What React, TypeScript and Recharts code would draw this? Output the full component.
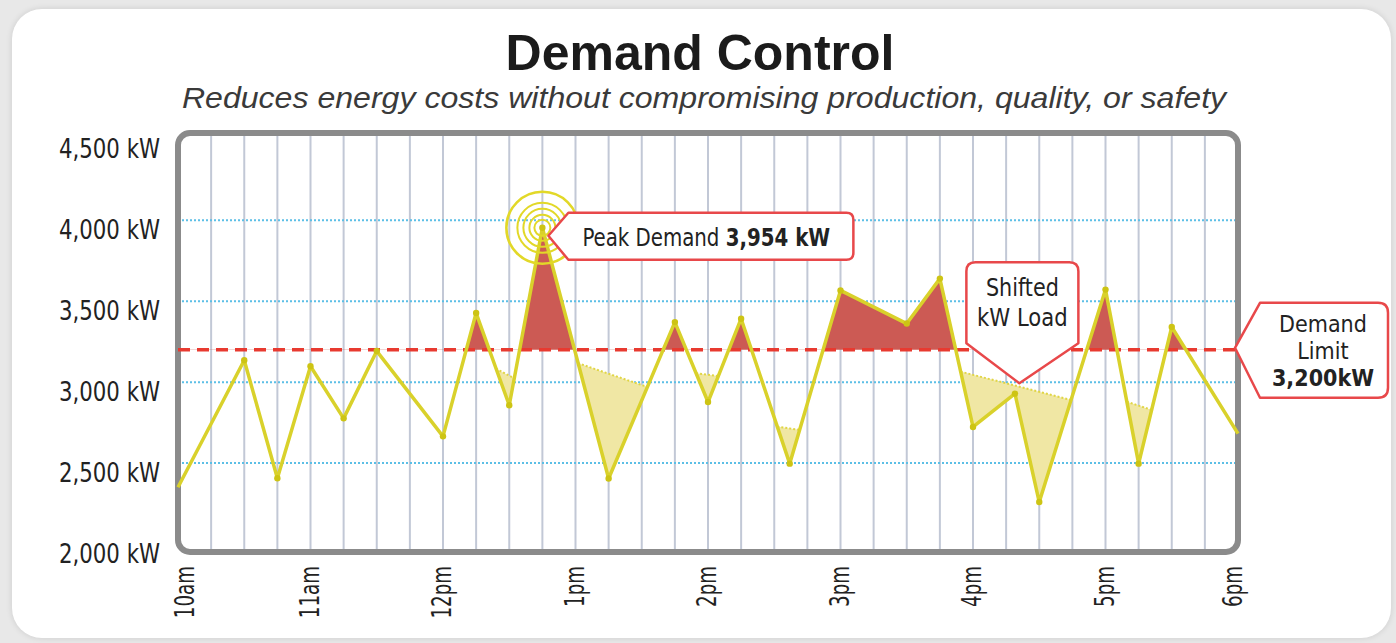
import React from 'react';
import {
  ComposedChart,
  Line,
  Area,
  XAxis,
  YAxis,
  CartesianGrid,
  ReferenceLine,
  ReferenceArea,
  ReferenceDot,
} from 'recharts';

// ---------- data ----------
// minutes after 10am
const minutes = [0, 30, 45, 60, 75, 90, 120, 135, 150, 165, 195, 225, 240, 255, 277, 300, 330, 345, 360, 379, 390, 420, 435, 450, 480];
const demandKw = [2350, 3135, 2406, 3098, 2776, 3192, 2665, 3427, 2857, 3954, 2404, 3371, 2877, 3392, 2496, 3567, 3362, 3640, 2723, 2929, 2259, 3572, 2496, 3341, 2682];

const hourTicks = [0, 60, 120, 180, 240, 300, 360, 420, 480];
const hourLabels = ['10am', '11am', '12pm', '1pm', '2pm', '3pm', '4pm', '5pm', '6pm'];
const kwTicks = [2000, 2500, 3000, 3500, 4000, 4500];
const dottedKw = [2500, 3000, 3500, 4000];
const quarterHours = [15, 30, 45, 60, 75, 90, 105, 120, 135, 150, 165, 180, 195, 210, 225, 240, 255, 270, 285, 300, 315, 330, 345, 360, 375, 390, 405, 420, 435, 450, 465];

const demandLimit = 3200;
const peakMinute = 165;
const peakKw = 3954;
const shiftedLabelMinute = 381;
const shiftedLabelKw = 2993;

// shifted-load regions: minute, load line (low), shifted level (high)
const shiftAMin = [144, 150, 152.3];
const shiftALow = [3083, 2857, 3024];
const shiftAHigh = [3083, 3040, 3024];
const shiftBMin = [181.2, 195, 212.6];
const shiftBLow = [3117, 2404, 2970];
const shiftBHigh = [3117, 3052, 2970];
const shiftCMin = [234.6, 240, 244.7];
const shiftCLow = [3055, 2877, 3038];
const shiftCHigh = [3055, 3046, 3038];
const shiftDMin = [271.4, 277, 281.5];
const shiftDLow = [2725, 2496, 2705];
const shiftDHigh = [2725, 2714, 2705];
const shiftEMin = [354.4, 360, 379, 390, 404.4];
const shiftELow = [3065, 2723, 2929, 2259, 2890];
const shiftEHigh = [3065, 3045, 2979, 2940, 2890];
const shiftFMin = [429.7, 435, 440.9];
const shiftFLow = [2879, 2496, 2828];
const shiftFHigh = [2879, 2855, 2828];

// ---------- derived tables ----------
const mainData = minutes.map((m, i) => ({ m, kw: demandKw[i] }));
const buildShift = (ms: number[], lo: number[], hi: number[]) =>
  ms.map((m, i) => ({ m, r: [lo[i], hi[i]], top: hi[i] }));
const shiftRegions = [
  buildShift(shiftAMin, shiftALow, shiftAHigh),
  buildShift(shiftBMin, shiftBLow, shiftBHigh),
  buildShift(shiftCMin, shiftCLow, shiftCHigh),
  buildShift(shiftDMin, shiftDLow, shiftDHigh),
  buildShift(shiftEMin, shiftELow, shiftEHigh),
  buildShift(shiftFMin, shiftFLow, shiftFHigh),
];

const maxKw = Math.max(...demandKw);
const minKw = Math.min(...demandKw);
const overOffset = (maxKw - demandLimit) / (maxKw - minKw);

// ---------- styles ----------
const COND = "'Liberation Sans Narrow', 'Arial Narrow', 'DejaVu Sans Condensed', sans-serif";
const SANS = "'Liberation Sans', Arial, Helvetica, sans-serif";
const YELLOW = '#d9d12b';
const RED_FILL = '#cc5a54';
const RED_LINE = '#e83a30';
const CALLOUT = '#e8484a';
const TEXT = '#222222';

const fmt = (v: number) => v.toLocaleString('en-US');

const YTick = (p: any) => (
  <text
    transform={`translate(${p.x - 10},${p.y + 19}) scale(0.91,1)`}
    textAnchor="end"
    fontSize={26}
    fontFamily={COND}
    fill={TEXT}
  >
    {fmt(p.payload.value)} kW
  </text>
);

const XTick = (p: any) => {
  const i = hourTicks.indexOf(p.payload.value);
  const shift = i === 0 ? 7 : i === hourTicks.length - 1 ? -5 : -1;
  return (
    <text
      transform={`translate(${p.x + shift + 9},${p.y + 6}) rotate(-90) scale(0.78,1)`}
      textAnchor="end"
      fontSize={26}
      fontFamily={COND}
      fill={TEXT}
    >
      {hourLabels[i]}
    </text>
  );
};

const renderDot = (p: any) => {
  if (p.index === 0 || p.index === minutes.length - 1) return <g key={`d${p.index}`} />;
  return <circle key={`d${p.index}`} cx={p.cx} cy={p.cy} r={3.2} fill="#cdc414" />;
};

const PeakMark = (p: any) => {
  const { cx, cy } = p;
  const radii = [36, 25, 19, 13, 8];
  const tx = cx + 6;
  const ty = cy + 8;
  return (
    <g>
      {radii.map((r) => (
        <circle key={r} cx={cx} cy={cy} r={r} fill="none" stroke="#e2d828" strokeWidth={r === 36 ? 2.6 : 2} />
      ))}
      <path
        d={`M${tx},${ty} L${tx + 20},${ty - 23} L${tx + 298},${ty - 23} Q${tx + 305},${ty - 23} ${tx + 305},${ty - 16} L${tx + 305},${ty + 17} Q${tx + 305},${ty + 24} ${tx + 298},${ty + 24} L${tx + 20},${ty + 24} Z`}
        fill="#ffffff"
        stroke={CALLOUT}
        strokeWidth={2.5}
        strokeLinejoin="round"
      />
      <text
        transform={`translate(${tx + 34},${ty + 10}) scale(0.88,1)`}
        fontSize={25}
        fontFamily={COND}
        fill={TEXT}
      >
        Peak Demand <tspan fontWeight="bold">{fmt(peakKw)} kW</tspan>
      </text>
    </g>
  );
};

const ShiftedMark = (p: any) => {
  const tx = p.cx;
  const ty = p.cy;
  const l = tx - 53;
  const r = tx + 59;
  const top = ty - 121;
  const side = ty - 40;
  return (
    <g>
      <path
        d={`M${tx},${ty} L${l},${side} L${l},${top + 9} Q${l},${top} ${l + 9},${top} L${r - 9},${top} Q${r},${top} ${r},${top + 9} L${r},${side} Z`}
        fill="#ffffff"
        stroke={CALLOUT}
        strokeWidth={2.5}
        strokeLinejoin="round"
      />
      <text
        transform={`translate(${tx + 3},${ty - 87}) scale(0.92,1)`}
        textAnchor="middle"
        fontSize={25}
        fontFamily={COND}
        fill={TEXT}
      >
        Shifted
      </text>
      <text
        transform={`translate(${tx + 3},${ty - 57}) scale(0.94,1)`}
        textAnchor="middle"
        fontSize={25}
        fontFamily={COND}
        fill={TEXT}
      >
        kW Load
      </text>
    </g>
  );
};

const LimitMark = (p: any) => {
  const tx = p.cx - 3;
  const ty = p.cy - 2;
  const l = tx + 25;
  const r = tx + 153;
  const top = ty - 45;
  const bot = ty + 50;
  const cxText = tx + 88;
  return (
    <g>
      <path
        d={`M${tx},${ty} L${l},${top} L${r - 10},${top} Q${r},${top} ${r},${top + 10} L${r},${bot - 10} Q${r},${bot} ${r - 10},${bot} L${l},${bot} Z`}
        fill="#ffffff"
        stroke={CALLOUT}
        strokeWidth={2.5}
        strokeLinejoin="round"
      />
      <text x={cxText} y={ty - 16} textAnchor="middle" fontSize={23} fontFamily={COND} fill={TEXT}>
        Demand
      </text>
      <text x={cxText} y={ty + 11} textAnchor="middle" fontSize={23} fontFamily={COND} fill={TEXT}>
        Limit
      </text>
      <text x={cxText} y={ty + 38} textAnchor="middle" fontSize={23} fontWeight="bold" fontFamily={COND} fill={TEXT}>
        {fmt(demandLimit)}kW
      </text>
    </g>
  );
};

export default function App() {
  return (
    <div
      style={{
        position: 'absolute',
        left: 0,
        top: 0,
        width: 1396,
        height: 643,
        background: '#e8e8e8',
        overflow: 'hidden',
      }}
    >
      <div
        style={{
          position: 'absolute',
          left: 12,
          top: 9,
          width: 1379,
          height: 629,
          background: '#ffffff',
          borderRadius: 30,
          boxShadow: '0 0 6px rgba(0,0,0,0.12)',
        }}
      />
      <svg width={1396} height={643} style={{ position: 'absolute', left: 0, top: 0 }}>
        <text x={700} y={70} textAnchor="middle" fontSize={50} fontWeight="bold" fontFamily={SANS} fill="#1b1b1b">
          Demand Control
        </text>
        <text
          transform="translate(704,108) scale(1.07,1)"
          textAnchor="middle"
          fontSize={30}
          fontStyle="italic"
          fontFamily={SANS}
          fill="#3a3a3a"
        >
          Reduces energy costs without compromising production, quality, or safety
        </text>
      </svg>
      <div style={{ position: 'absolute', left: 0, top: 0 }}>
        <ComposedChart width={1396} height={643} margin={{ top: 133, right: 158, bottom: 11, left: 8 }}>
          <defs>
            <linearGradient id="overLimitFill" x1="0" y1="0" x2="0" y2="1">
              <stop offset={0} stopColor={RED_FILL} stopOpacity={1} />
              <stop offset={overOffset} stopColor={RED_FILL} stopOpacity={1} />
              <stop offset={overOffset} stopColor={RED_FILL} stopOpacity={0} />
              <stop offset={1} stopColor={RED_FILL} stopOpacity={0} />
            </linearGradient>
          </defs>
          <CartesianGrid horizontal={false} verticalValues={quarterHours} stroke="#c2c8d6" strokeWidth={2} />
          <CartesianGrid vertical={false} horizontalValues={dottedKw} stroke="#5cbfe6" strokeWidth={2} strokeDasharray="2 2" />
          <XAxis
            type="number"
            dataKey="m"
            domain={[0, 480]}
            ticks={hourTicks}
            interval={0}
            tick={<XTick />}
            axisLine={false}
            tickLine={false}
            height={80}
          />
          <YAxis
            type="number"
            domain={[1950, 4540]}
            ticks={kwTicks}
            interval={0}
            tick={<YTick />}
            axisLine={false}
            tickLine={false}
            width={170}
          />
          {shiftRegions.map((d, i) => (
            <Area
              key={`sa${i}`}
              data={d}
              dataKey="r"
              type="linear"
              stroke="none"
              fill="#f0e7a4"
              fillOpacity={1}
              isAnimationActive={false}
            />
          ))}
          {shiftRegions.map((d, i) => (
            <Line
              key={`sl${i}`}
              data={d}
              dataKey="top"
              type="linear"
              stroke="#e0d545"
              strokeWidth={2}
              strokeDasharray="2 2"
              dot={false}
              isAnimationActive={false}
            />
          ))}
          <ReferenceLine y={demandLimit} stroke={RED_LINE} strokeWidth={3.5} strokeDasharray="12 7" />
          <Area
            data={mainData}
            dataKey="kw"
            type="linear"
            baseValue={demandLimit}
            stroke="none"
            fill="url(#overLimitFill)"
            fillOpacity={1}
            isAnimationActive={false}
          />
          <Line
            data={mainData}
            dataKey="kw"
            type="linear"
            stroke={YELLOW}
            strokeWidth={3.5}
            strokeLinejoin="round"
            dot={renderDot}
            isAnimationActive={false}
          />
          <ReferenceArea x1={0} x2={480} y1={1950} y2={4540} fill="none" stroke="#8b8b8b" strokeWidth={6} radius={12} />
          <ReferenceDot x={peakMinute} y={peakKw} r={0} shape={<PeakMark />} />
          <ReferenceDot x={shiftedLabelMinute} y={shiftedLabelKw} r={0} shape={<ShiftedMark />} />
          <ReferenceDot x={480} y={demandLimit} r={0} shape={<LimitMark />} />
        </ComposedChart>
      </div>
    </div>
  );
}
